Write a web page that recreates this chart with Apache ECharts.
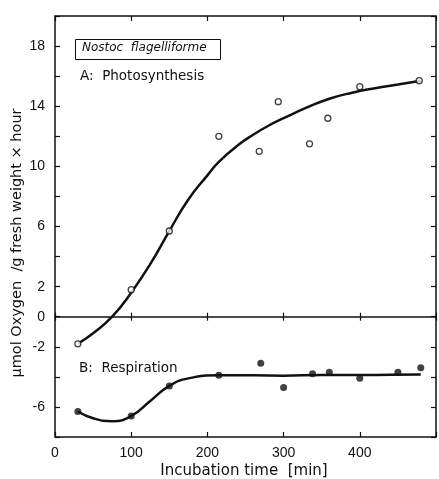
<!DOCTYPE html>
<html>
<head>
<meta charset="utf-8">
<script src="https://cdn.jsdelivr.net/npm/echarts@6/dist/echarts.min.js"></script>
<style>
html, body { margin: 0; padding: 0; background: #fff; }
#chart { width: 439px; height: 479px; }
</style>
</head>
<body>
<div id="chart"></div>
<script>
var photoTime = [30, 100, 150, 215, 268, 293, 334, 358, 400, 478];
var photoVal = [-1.8, 1.8, 5.7, 12.0, 11.0, 14.3, 11.5, 13.2, 15.3, 15.7];
var respTime = [30, 100, 150, 215, 270, 300, 338, 360, 400, 450, 480];
var respVal = [-6.3, -6.6, -4.6, -3.9, -3.1, -4.7, -3.8, -3.7, -4.1, -3.7, -3.4];

// hand drawn fit curves
var photoFitTime = [30, 50, 75, 100, 125, 150, 175, 200, 215, 240, 260, 280, 300, 330, 360, 390, 420, 450, 480];
var photoFitVal = [-1.8, -1.1, 0, 1.6, 3.5, 5.7, 7.8, 9.4, 10.3, 11.4, 12.1, 12.7, 13.2, 13.9, 14.5, 14.9, 15.2, 15.45, 15.7];
var respFitTime = [30, 50, 75, 100, 125, 150, 175, 215, 260, 300, 350, 400, 440, 480];
var respFitVal = [-6.3, -6.75, -6.95, -6.6, -5.6, -4.6, -4.1, -3.9, -3.9, -3.92, -3.88, -3.88, -3.86, -3.85];

var yLabels = [18, 14, 10, 6, 2, 0, -2, -6];
var xLabels = [0, 100, 200, 300, 400];

function pairs(xs, ys) {
  var out = [];
  for (var i = 0; i < xs.length; i++) out.push([xs[i], ys[i]]);
  return out;
}

var font = 'Liberation Sans';
var myChart = echarts.init(document.getElementById('chart'));

var tick = { show: true, inside: true, length: 5, lineStyle: { color: '#111', width: 1.2 } };
var xCommon = {
  type: 'value', min: 0, max: 500, interval: 100,
  splitLine: { show: false },
  axisLine: { show: false, onZero: false },
  axisTick: tick,
  axisLabel: { show: false }
};

var option = {
  animation: false,
  grid: {
    left: 55, top: 16, right: 1, bottom: 42,
    show: true, borderColor: '#111', borderWidth: 1.5, backgroundColor: 'transparent'
  },
  xAxis: [
    Object.assign({}, xCommon, {
      position: 'bottom',
      axisLabel: {
        show: true, color: '#111', fontFamily: font, fontSize: 14, margin: 9,
        formatter: function (v) { return xLabels.indexOf(v) >= 0 ? String(v) : ''; }
      }
    }),
    Object.assign({}, xCommon, { position: 'top' }),
    // zero line, ticks crossing it from both sides
    Object.assign({}, xCommon, {
      position: 'bottom',
      axisLine: { show: true, onZero: true, onZeroAxisIndex: 0, lineStyle: { color: '#111', width: 1.5 } },
      axisTick: { show: true, inside: true, length: 4, lineStyle: { color: '#111', width: 1.2 } }
    }),
    Object.assign({}, xCommon, {
      position: 'top',
      axisLine: { show: false, onZero: true, onZeroAxisIndex: 1 },
      axisTick: { show: true, inside: true, length: 4, lineStyle: { color: '#111', width: 1.2 } }
    })
  ],
  yAxis: [
    {
      type: 'value', min: -8, max: 20, interval: 2, position: 'left',
      splitLine: { show: false },
      axisLine: { show: false, onZero: false },
      axisTick: tick,
      axisLabel: {
        color: '#111', fontFamily: font, fontSize: 14, margin: 10,
        formatter: function (v) { return yLabels.indexOf(v) >= 0 ? String(v) : ''; }
      }
    },
    {
      type: 'value', min: -8, max: 20, interval: 2, position: 'right',
      splitLine: { show: false },
      axisLine: { show: false, onZero: false },
      axisTick: tick,
      axisLabel: { show: false }
    }
  ],
  graphic: [
    {
      type: 'rect', left: 75, top: 39,
      shape: { width: 145, height: 20 },
      style: { fill: '#fff', stroke: '#111', lineWidth: 1 }
    },
    {
      type: 'text', left: 82, top: 42,
      style: { text: 'Nostoc  flagelliforme', font: 'italic 12px "DejaVu Sans"', fill: '#111' }
    },
    {
      type: 'text', left: 80, top: 69,
      style: { text: 'A:  Photosynthesis', font: '13.5px "DejaVu Sans"', fill: '#111' }
    },
    {
      type: 'text', left: 79, top: 361,
      style: { text: 'B:  Respiration', font: '13.5px "DejaVu Sans"', fill: '#111' }
    },
    {
      type: 'text', x: 244, y: 471,
      style: { text: 'Incubation time  [min]', font: '15px "DejaVu Sans"', fill: '#111', align: 'center', verticalAlign: 'middle' }
    },
    {
      type: 'text', x: 17, y: 243, rotation: Math.PI / 2,
      style: { text: 'µmol Oxygen  /g fresh weight × hour', font: '14.5px "DejaVu Sans"', fill: '#111', align: 'center', verticalAlign: 'middle' }
    }
  ],
  series: [
    {
      name: 'photoFit', type: 'line', smooth: true, showSymbol: false,
      data: pairs(photoFitTime, photoFitVal),
      lineStyle: { color: '#111', width: 2.5 }, z: 2
    },
    {
      name: 'respFit', type: 'line', smooth: true, showSymbol: false,
      data: pairs(respFitTime, respFitVal),
      lineStyle: { color: '#111', width: 2.5 }, z: 2
    },
    {
      name: 'photo', type: 'scatter', symbol: 'circle', symbolSize: 6,
      data: pairs(photoTime, photoVal),
      itemStyle: { color: '#fff', borderColor: '#111', borderWidth: 1.3 }, z: 3
    },
    {
      name: 'resp', type: 'scatter', symbol: 'circle', symbolSize: 7,
      data: pairs(respTime, respVal),
      itemStyle: { color: '#111' }, z: 3
    }
  ]
};
myChart.setOption(option);
</script>
</body>
</html>
